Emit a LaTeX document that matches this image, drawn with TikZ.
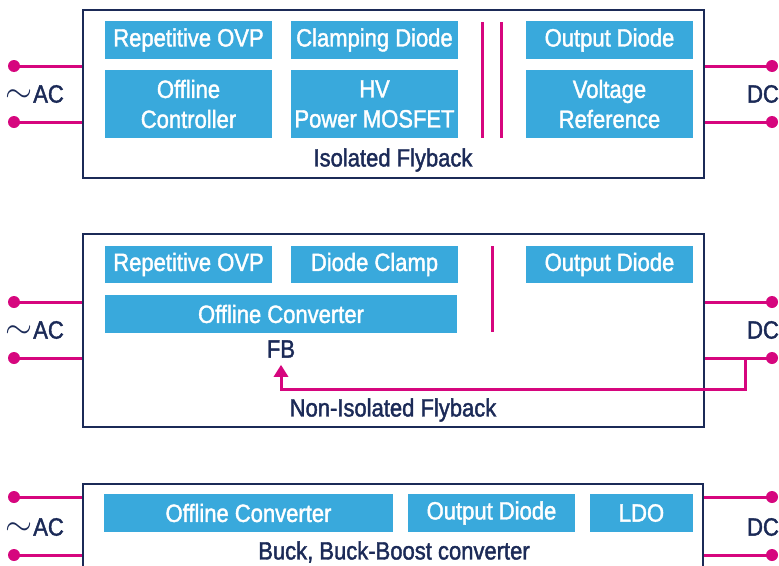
\documentclass[tikz,border=0pt]{standalone}
\usepackage{fontspec}
\setmainfont{Liberation Sans}[FakeStretch=0.88,FakeBold=1.6]
\usetikzlibrary{arrows.meta}
\definecolor{stblue}{HTML}{39A9DC}
\definecolor{navy}{HTML}{1B2A57}
\definecolor{stpink}{HTML}{D6067E}
\newcommand{\actilde}{\raisebox{0.5pt}{\scalebox{1.4}{$\sim$}}\kern1pt}
\begin{document}
\begin{tikzpicture}[x=1pt,y=-1pt,
 every node/.style={font=\fontsize{25}{30}\selectfont},
 bb/.style={fill=stblue,text=white,inner sep=0pt,align=center,minimum height=38pt},
 frame/.style={draw=navy,line width=2.5pt,inner sep=0pt},
 lbl/.style={text=navy,inner sep=0pt},
 wire/.style={draw=stpink,line width=3pt},
 dot/.style={circle,fill=stpink,inner sep=0pt,minimum size=12pt},
]
\useasboundingbox (0,0) rectangle (779,565);
\clip (0,0) rectangle (779,565);

% ---------- Panel 1 ----------
\node[frame,minimum width=621pt,minimum height=168pt] (f1) at (393.5,94) {};
\node[bb,minimum width=167pt] (rovp1) at (188.5,40) {Repetitive OVP};
\node[bb,minimum width=167pt,minimum height=68pt] (offc1) at (188.5,104) {Offline\\Controller};
\node[bb,minimum width=167pt] (clamp1) at (374.5,40) {Clamping Diode};
\node[bb,minimum width=167pt,minimum height=68pt] (hv1) at (374.5,104) {HV\\Power MOSFET};
\node[bb,minimum width=167pt] (od1) at (609.5,40) {Output Diode};
\node[bb,minimum width=167pt,minimum height=68pt] (vr1) at (609.5,104) {Voltage\\Reference};
\draw[wire] (482,22) -- (482,138);
\draw[wire] (501,22) -- (501,138);
\node[lbl] (t1) at (393,160) {Isolated Flyback};
\node[dot] (ac1a) at (14,66) {};
\node[dot] (ac1b) at (14,122) {};
\node[dot] (dc1a) at (772,66) {};
\node[dot] (dc1b) at (772,122) {};
\draw[wire] (ac1a.center) -- (ac1a.center -| f1.west);
\draw[wire] (ac1b.center) -- (ac1b.center -| f1.west);
\draw[wire] (dc1a.center) -- (dc1a.center -| f1.east);
\draw[wire] (dc1b.center) -- (dc1b.center -| f1.east);
\node[lbl] (acl1) at (34.5,94) {\actilde AC};
\node[lbl] (dcl1) at (763,94) {DC};

% ---------- Panel 2 ----------
\node[frame,minimum width=621pt,minimum height=193pt] (f2) at (393.5,330.5) {};
\node[bb,minimum width=167pt,minimum height=37pt] (rovp2) at (188.5,264.5) {Repetitive OVP};
\node[bb,minimum width=167pt,minimum height=37pt] (clamp2) at (374.5,264.5) {Diode Clamp};
\node[bb,minimum width=167pt,minimum height=37pt] (od2) at (609.5,264.5) {Output Diode};
\node[bb,minimum width=352pt] (offc2) at (281,314) {Offline Converter};
\draw[wire] (492,246) -- (492,332);
\node[lbl,inner ysep=7pt] (fb) at (281,349) {FB};
\node[lbl] (t2) at (393,410) {Non-Isolated Flyback};
\node[dot] (ac2a) at (14,302) {};
\node[dot] (ac2b) at (14,358) {};
\node[dot] (dc2a) at (772,302) {};
\node[dot] (dc2b) at (772,358) {};
\draw[wire] (ac2a.center) -- (ac2a.center -| f2.west);
\draw[wire] (ac2b.center) -- (ac2b.center -| f2.west);
\draw[wire] (dc2a.center) -- (dc2a.center -| f2.east);
\draw[wire] (dc2b.center) -- (dc2b.center -| f2.east);
\coordinate (j) at (745,358);
\draw[wire,-{Triangle[width=14pt,length=12pt]}] (j) -- ++(0,31) -| (fb.south);
\node[lbl] (acl2) at (34.5,330) {\actilde AC};
\node[lbl] (dcl2) at (763,330) {DC};

% ---------- Panel 3 ----------
\node[frame,minimum width=620pt,minimum height=120pt] (f3) at (393,544) {};
\node[bb,minimum width=289pt] (offc3) at (248.5,513) {Offline Converter};
\node[bb,minimum width=167pt] (od3) at (491.5,513) {Output Diode};
\node[bb,minimum width=103pt] (ldo3) at (641.5,513) {LDO};
\node[lbl] (t3) at (394,552) {Buck, Buck-Boost converter};
\node[dot] (ac3a) at (14,497) {};
\node[dot] (ac3b) at (14,555) {};
\node[dot] (dc3a) at (772,497) {};
\node[dot] (dc3b) at (772,555) {};
\draw[wire] (ac3a.center) -- (ac3a.center -| f3.west);
\draw[wire] (ac3b.center) -- (ac3b.center -| f3.west);
\draw[wire] (dc3a.center) -- (dc3a.center -| f3.east);
\draw[wire] (dc3b.center) -- (dc3b.center -| f3.east);
\node[lbl] (acl3) at (34.5,527) {\actilde AC};
\node[lbl] (dcl3) at (763,527) {DC};
\end{tikzpicture}
\end{document}
